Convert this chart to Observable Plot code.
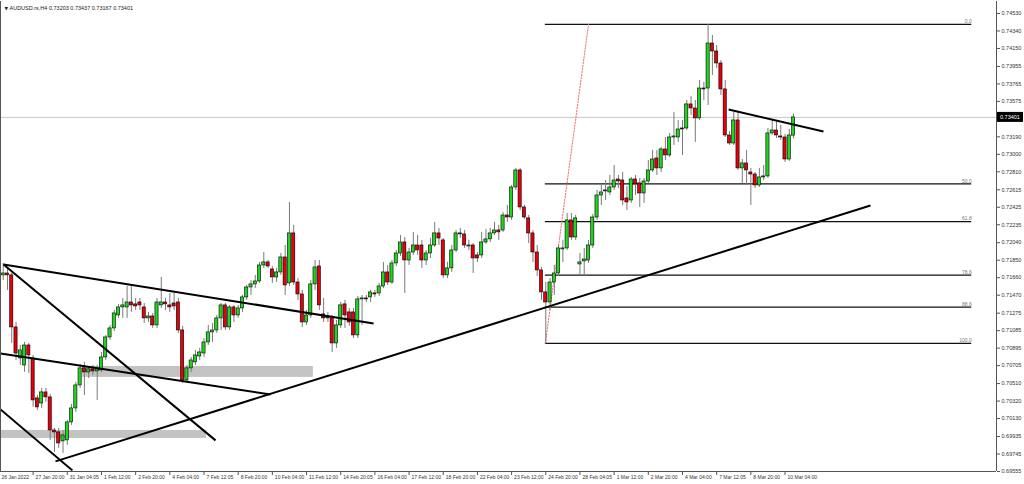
<!DOCTYPE html>
<html><head><meta charset="utf-8">
<script src="https://cdn.jsdelivr.net/npm/d3@7"></script>
<script src="https://cdn.jsdelivr.net/npm/@observablehq/plot@0.6"></script>
<style>
html,body{margin:0;padding:0;background:#fff;}
#chart{width:1024px;height:484px;overflow:hidden;}
</style></head><body><div id="chart"></div>
<script>
// ---- data (AUDUSD H4), one value per bar, bars numbered from 1 ----
const open = [0.71685,0.71706,0.71685,0.71120,0.70783,0.70707,0.70924,0.70783,0.70349,0.70294,0.70414,0.70360,0.70001,0.69980,0.69882,0.69893,0.70088,0.70240,0.70490,0.70675,0.70631,0.70664,0.70642,0.70653,0.70794,0.71011,0.71109,0.71250,0.71337,0.71337,0.71391,0.71370,0.71391,0.71337,0.71218,0.71239,0.71142,0.71359,0.71391,0.71359,0.71380,0.71391,0.71087,0.70544,0.70675,0.70740,0.70805,0.70837,0.70957,0.71066,0.71087,0.71218,0.71359,0.71120,0.71337,0.71250,0.71326,0.71446,0.71554,0.71587,0.71619,0.71793,0.71826,0.71750,0.71663,0.71717,0.71880,0.71598,0.72141,0.71608,0.71478,0.71174,0.71250,0.71587,0.71782,0.71261,0.71218,0.71218,0.70946,0.71142,0.71370,0.71283,0.71283,0.71033,0.71424,0.71435,0.71446,0.71489,0.71489,0.71565,0.71717,0.71608,0.71815,0.71923,0.72043,0.71847,0.71934,0.72010,0.72010,0.71847,0.71923,0.72010,0.72141,0.72065,0.71685,0.71761,0.71956,0.72141,0.72130,0.71999,0.72010,0.71902,0.71902,0.72043,0.72076,0.72141,0.72173,0.72173,0.72336,0.72314,0.72640,0.72825,0.72423,0.72304,0.72141,0.71934,0.71739,0.71500,0.71391,0.71608,0.71706,0.71967,0.71978,0.72282,0.72097,0.71804,0.71837,0.71847,0.72010,0.72314,0.72553,0.72608,0.72586,0.72640,0.72727,0.72716,0.72521,0.72499,0.72727,0.72684,0.72575,0.72705,0.72825,0.72955,0.72847,0.73053,0.72988,0.73183,0.73183,0.73281,0.73281,0.73542,0.73498,0.73390,0.73715,0.73715,0.74204,0.74117,0.73987,0.73705,0.73205,0.73118,0.73368,0.72847,0.72901,0.72803,0.72781,0.72662,0.72749,0.72760,0.73227,0.73259,0.73194,0.73183,0.72944,0.73203];
const high = [0.71815,0.71761,0.71706,0.71174,0.70924,0.70957,0.70946,0.70816,0.70381,0.70457,0.70457,0.70392,0.70023,0.70023,0.70001,0.70110,0.70284,0.70522,0.70718,0.70740,0.70696,0.70707,0.70707,0.70848,0.71033,0.71142,0.71304,0.71370,0.71435,0.71565,0.71576,0.71435,0.71435,0.71380,0.71283,0.71272,0.71435,0.71663,0.71435,0.71489,0.71489,0.71435,0.71131,0.70707,0.70794,0.70870,0.70892,0.71000,0.71142,0.71163,0.71250,0.71380,0.71380,0.71359,0.71359,0.71359,0.71467,0.71576,0.71630,0.71685,0.71826,0.71934,0.71847,0.71782,0.71761,0.71923,0.72010,0.72477,0.72228,0.71652,0.71522,0.71304,0.71630,0.71847,0.71847,0.71435,0.71283,0.71250,0.71196,0.71391,0.71413,0.71326,0.71326,0.71456,0.71467,0.71467,0.71522,0.71522,0.71598,0.71826,0.71793,0.71847,0.71956,0.72119,0.72097,0.71978,0.72152,0.72119,0.72065,0.71956,0.72086,0.72260,0.72195,0.72086,0.71826,0.72010,0.72173,0.72195,0.72173,0.72065,0.72032,0.71934,0.72152,0.72184,0.72195,0.72260,0.72228,0.72369,0.72445,0.72662,0.72847,0.72847,0.72445,0.72336,0.72173,0.72010,0.71771,0.71608,0.71652,0.71793,0.72010,0.72065,0.72358,0.72358,0.72336,0.71923,0.71978,0.72065,0.72347,0.72608,0.72662,0.72716,0.72771,0.72879,0.72771,0.72803,0.72651,0.72749,0.72771,0.72738,0.72738,0.72933,0.73042,0.73042,0.73075,0.73183,0.73227,0.73455,0.73368,0.73368,0.73585,0.73628,0.73585,0.73802,0.73781,0.74410,0.74291,0.74182,0.74019,0.73802,0.73248,0.73455,0.73455,0.72944,0.73042,0.72847,0.72803,0.72847,0.72879,0.73281,0.73368,0.73368,0.73314,0.73216,0.73270,0.73437];
const low = [0.71630,0.71522,0.70946,0.70761,0.70707,0.70631,0.70620,0.70251,0.70218,0.70240,0.70305,0.69893,0.69762,0.69806,0.69751,0.69838,0.70056,0.70197,0.70457,0.70381,0.70566,0.70599,0.70327,0.70631,0.70761,0.70979,0.71076,0.71218,0.71218,0.71218,0.71283,0.71304,0.71304,0.71163,0.71174,0.71109,0.71109,0.71326,0.71304,0.71283,0.71304,0.71055,0.70512,0.70522,0.70631,0.70707,0.70761,0.70794,0.70924,0.70957,0.71055,0.71087,0.71087,0.71087,0.71174,0.71218,0.71283,0.71413,0.71467,0.71543,0.71598,0.71761,0.71761,0.71598,0.71608,0.71685,0.71467,0.71565,0.71576,0.71413,0.71120,0.71142,0.71218,0.71522,0.71304,0.71174,0.71174,0.70848,0.70892,0.71109,0.71109,0.71131,0.71000,0.71000,0.71142,0.71391,0.71391,0.71446,0.71456,0.71543,0.71576,0.71587,0.71782,0.71891,0.71489,0.71793,0.71902,0.71902,0.71761,0.71793,0.71869,0.71989,0.72010,0.71652,0.71652,0.71717,0.71934,0.72086,0.71978,0.71956,0.71706,0.71826,0.71869,0.72021,0.72043,0.72119,0.72065,0.72152,0.72260,0.72282,0.72608,0.72390,0.72293,0.72032,0.71826,0.71674,0.71413,0.70946,0.71304,0.71467,0.71674,0.71826,0.71956,0.72065,0.72065,0.71674,0.71674,0.71815,0.71978,0.72282,0.72445,0.72499,0.72553,0.72608,0.72629,0.72445,0.72390,0.72466,0.72553,0.72423,0.72466,0.72684,0.72803,0.72771,0.72803,0.72933,0.72966,0.73096,0.73129,0.72988,0.73259,0.73422,0.73129,0.73368,0.73585,0.73531,0.73857,0.73933,0.73639,0.73183,0.73096,0.73096,0.72825,0.72684,0.72662,0.72445,0.72629,0.72640,0.72716,0.72738,0.73205,0.73172,0.73151,0.72912,0.72923,0.73167];
const close = [0.71706,0.71685,0.71120,0.70837,0.70870,0.70924,0.70816,0.70327,0.70251,0.70414,0.70360,0.70001,0.69980,0.69860,0.69947,0.70088,0.70240,0.70490,0.70675,0.70631,0.70664,0.70642,0.70664,0.70794,0.71011,0.71109,0.71272,0.71337,0.71359,0.71391,0.71359,0.71348,0.71359,0.71218,0.71239,0.71142,0.71391,0.71391,0.71370,0.71337,0.71348,0.71087,0.70544,0.70675,0.70761,0.70816,0.70848,0.70957,0.71066,0.71087,0.71218,0.71359,0.71120,0.71337,0.71250,0.71326,0.71446,0.71554,0.71587,0.71619,0.71793,0.71826,0.71782,0.71663,0.71717,0.71880,0.71576,0.72141,0.71608,0.71478,0.71174,0.71250,0.71587,0.71771,0.71359,0.71218,0.71228,0.70946,0.71142,0.71359,0.71250,0.71174,0.71033,0.71424,0.71435,0.71424,0.71500,0.71478,0.71565,0.71717,0.71608,0.71815,0.71923,0.72043,0.71847,0.71934,0.72010,0.71956,0.71847,0.71923,0.72010,0.72141,0.72086,0.71685,0.71761,0.71956,0.72141,0.72130,0.72010,0.72010,0.71869,0.71869,0.72043,0.72076,0.72141,0.72173,0.72152,0.72336,0.72314,0.72640,0.72825,0.72423,0.72314,0.72141,0.71934,0.71739,0.71500,0.71391,0.71608,0.71706,0.71978,0.71978,0.72282,0.72097,0.72304,0.71826,0.71858,0.72010,0.72314,0.72553,0.72586,0.72597,0.72640,0.72716,0.72705,0.72499,0.72477,0.72727,0.72673,0.72575,0.72705,0.72825,0.72944,0.72847,0.73053,0.72988,0.73183,0.73194,0.73270,0.73270,0.73542,0.73498,0.73390,0.73715,0.73705,0.74204,0.74117,0.73987,0.73705,0.73205,0.73118,0.73368,0.72847,0.72901,0.72825,0.72781,0.72662,0.72749,0.72760,0.73227,0.73259,0.73205,0.73183,0.72944,0.73205,0.73401];

const timeLabels = ["26 Jan 2022","27 Jan 20:00","31 Jan 04:05","1 Feb 12:00","2 Feb 20:00","4 Feb 04:00","7 Feb 12:05","8 Feb 20:00","10 Feb 04:00","11 Feb 12:00","14 Feb 20:05","16 Feb 04:00","17 Feb 12:00","18 Feb 20:00","22 Feb 04:00","23 Feb 12:00","24 Feb 20:00","28 Feb 04:05","1 Mar 12:00","2 Mar 20:00","4 Mar 04:00","7 Mar 12:05","8 Mar 20:00","10 Mar 04:00"];
const barsPerLabel = 8;
const priceTicks = [0.74530,0.74340,0.74150,0.73955,0.73765,0.73575,0.73190,0.73000,0.72810,0.72615,0.72425,0.72235,0.72040,0.71850,0.71660,0.71470,0.71275,0.71085,0.70895,0.70705,0.70510,0.70320,0.70130,0.69935,0.69745,0.69555];
const header = "AUDUSD.rs,H4 0.73203 0.73437 0.73167 0.73401";
const lastPrice = 0.73401;

// Fibonacci retracement (bar index / price)
const fibLow = 0.70946, fibHigh = 0.74411;
const fibLevels = [0, 50, 61.8, 78.6, 88.6, 100];
const fibFromBar = 127.9, fibToBar = 227.7, fibAnchorBar = 138.0;

// hand-drawn trend lines (bar index / price)
const trendX1 = [13.24, 1.07, 1.07, 0.37, 0.37, 170.8];
const trendY1 = [0.69665, 0.71804, 0.71804, 0.70837, 0.70229, 0.73487];
const trendX2 = [204.0, 87.7, 50.7, 63.6, 17.2, 193.0];
const trendY2 = [0.72445, 0.71163, 0.69893, 0.70392, 0.69567, 0.73248];

// grey zones (bar index / price)
const zoneX1 = [19.6, 0];
const zoneX2 = [73.6, 48.6];
const zoneY1 = [0.70577, 0.69914];
const zoneY2 = [0.70696, 0.70001];

// x / y extent of the chart window
const barDomain = [0.367, 233.5];
const priceDomain = [0.69555, 0.74660];

// ---- tables ----
const candles = open.map((o, i) => ({bar: i + 1, open: o, high: high[i], low: low[i], close: close[i]}));
const timeTicks = timeLabels.map((label, k) => ({bar: k * barsPerLabel, label}));
const fib = fibLevels.map(l => ({level: l, price: fibHigh - (fibHigh - fibLow) * l / 100, label: l.toFixed(1)}));
const trends = trendX1.map((x, i) => ({x1: x, y1: trendY1[i], x2: trendX2[i], y2: trendY2[i]}));
const zones = zoneX1.map((x, i) => ({x1: x, x2: zoneX2[i], y1: zoneY1[i], y2: zoneY2[i]}));
const fibDiag = [{bar: fibFromBar, price: fibLow}, {bar: fibAnchorBar, price: fibHigh}];

const up = "#1fd61f", down = "#e3000b";
const font = "Liberation Sans, Arial, sans-serif";

const plot = Plot.plot({
  width: 1024, height: 484,
  marginLeft: 0, marginRight: 28, marginTop: 1, marginBottom: 13,
  style: {fontFamily: font, background: "#fff", color: "#222"},
  x: {type: "linear", domain: barDomain, axis: null},
  y: {domain: priceDomain, axis: null},
  marks: [
    Plot.rect(zones, {x1: "x1", x2: "x2", y1: "y1", y2: "y2", fill: "#c3c3c3", clip: true}),
    Plot.ruleY([lastPrice], {stroke: "#c8c8c8", strokeWidth: 1}),
    Plot.ruleY(fib, {y: "price", x1: fibFromBar, x2: fibToBar, stroke: "#111", strokeWidth: 1.3}),
    Plot.text(fib, {x: fibToBar, y: "price", text: "label", textAnchor: "end", dy: -3, fontSize: 5, fill: "#777"}),
    Plot.line(fibDiag, {x: "bar", y: "price", stroke: "#f07070", strokeWidth: 1, strokeDasharray: "1.5,1.5"}),
    Plot.ruleX(candles, {x: "bar", y1: "low", y2: "high", stroke: "#7a7a7a", strokeWidth: 1}),
    Plot.rect(candles, {
      x1: d => d.bar - 0.37, x2: d => d.bar + 0.37,
      y1: "open", y2: "close",
      fill: d => d.close >= d.open ? up : down,
      stroke: "#000", strokeWidth: 0.6
    }),
    Plot.link(trends, {x1: "x1", y1: "y1", x2: "x2", y2: "y2", stroke: "#000", strokeWidth: 2, clip: true}),
    Plot.ruleX([barDomain[0], barDomain[1]], {stroke: "#555", strokeWidth: 1}),
    Plot.ruleY([priceDomain[0]], {stroke: "#555", strokeWidth: 1}),
    Plot.axisY(priceTicks, {anchor: "right", tickSize: 3, tickPadding: 2, tickFormat: d3.format(".5f"), fontSize: 5.5, stroke: "#555", fill: "#333"}),
    Plot.axisX(timeTicks.map(d => d.bar), {anchor: "bottom", tickSize: 4, tickFormat: () => "", stroke: "#555"}),
    Plot.text(timeTicks, {x: "bar", frameAnchor: "bottom", dy: 7, dx: 2.5, textAnchor: "start", text: "label", fontSize: 5, fill: "#333"}),
    Plot.text(["\u25BC"], {frameAnchor: "top-left", dx: 4, dy: 5, fontSize: 4.5, fill: "#222", fontFamily: "DejaVu Sans"}),
    Plot.text([header], {frameAnchor: "top-left", dx: 9, dy: 5, textAnchor: "start", fontSize: 5.5, fill: "#222"})
  ]
});

// current-price tag on the right scale
const yScale = plot.scale("y");
const yPos = yScale.apply(lastPrice);
const svg = d3.select(plot);
svg.append("rect").attr("x", 997).attr("y", yPos - 5).attr("width", 26).attr("height", 10).attr("fill", "#000");
svg.append("text").attr("x", 1000).attr("y", yPos).attr("dy", "0.35em").attr("text-anchor", "start")
  .attr("fill", "#fff").attr("font-size", 5.5).attr("font-family", font).text(d3.format(".5f")(lastPrice));

document.getElementById("chart").appendChild(plot);
</script>
</body></html>
